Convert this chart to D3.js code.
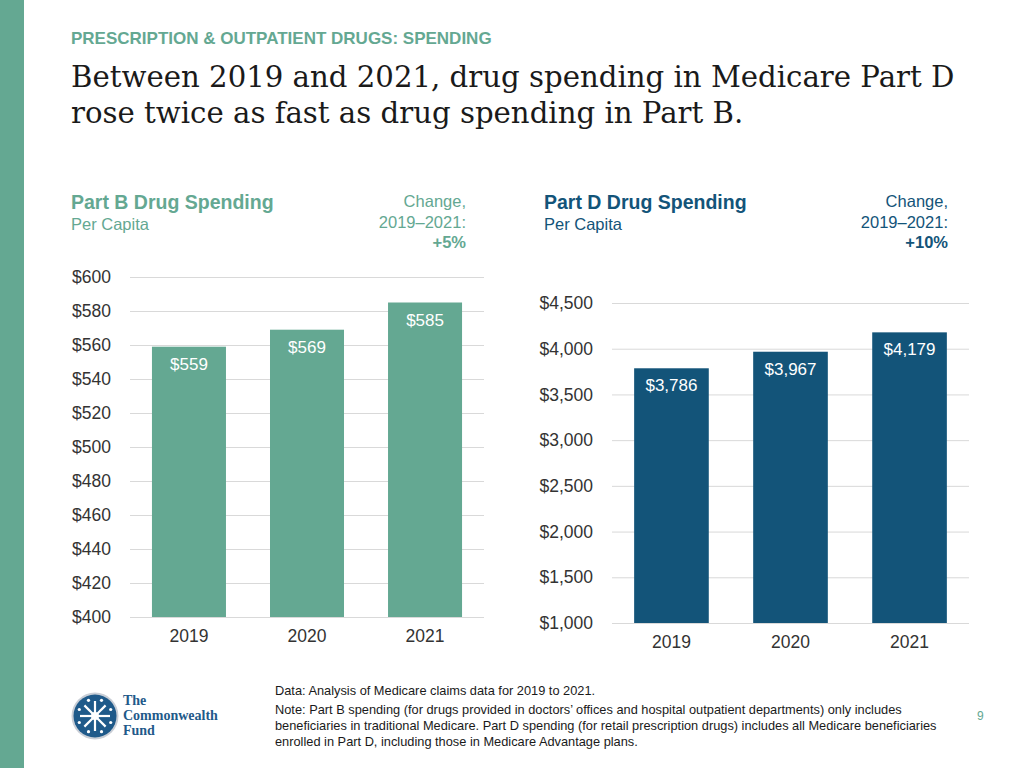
<!DOCTYPE html>
<html><head><meta charset="utf-8">
<script src="https://cdn.jsdelivr.net/npm/d3@7"></script>
<style>body{margin:0;background:#fff}svg{display:block}</style>
</head><body>
<script>
const years = ["2019","2020","2021"];
const partB = [559, 569, 585];
const partD = [3786, 3967, 4179];
const partBTicks = [400,420,440,460,480,500,520,540,560,580,600];
const partDTicks = [1000,1500,2000,2500,3000,3500,4000,4500];
const partBChange = "+5%";
const partDChange = "+10%";

const W=1024,H=768;
const green="#64a892", blue="#135479", txt="#333333", grid="#d9d9d9";
const sans="'Liberation Sans', Arial, sans-serif";
const serif="'DejaVu Serif', Georgia, serif";
const svg=d3.select("body").append("svg").attr("width",W).attr("height",H);
svg.append("rect").attr("x",0).attr("y",0).attr("width",W).attr("height",H).attr("fill","#fff");
svg.append("rect").attr("x",0).attr("y",0).attr("width",24).attr("height",H).attr("fill",green);

function fit(sel,target){ // scale font size so the text spans target width
  const s=+sel.attr("font-size"), w=sel.node().getComputedTextLength();
  sel.attr("font-size",s*target/w);
}
const hd=svg.append("text").attr("x",71).attr("y",44).attr("font-family",sans).attr("font-weight","bold")
 .attr("font-size",17).attr("fill",green).text("PRESCRIPTION & OUTPATIENT DRUGS: SPENDING");
fit(hd,421);
const t1=svg.append("text").attr("x",71).attr("y",87).attr("font-family",serif).attr("font-size",30).attr("fill","#1a1a1a")
 .text("Between 2019 and 2021, drug spending in Medicare Part D");
fit(t1,884);
svg.append("text").attr("x",71).attr("y",123).attr("font-family",serif).attr("font-size",t1.attr("font-size")).attr("fill","#1a1a1a")
 .text("rose twice as fast as drug spending in Part B.");

function panel(o){
  const g=svg.append("g");
  g.append("text").attr("x",o.tx).attr("y",209).attr("font-family",sans).attr("font-weight","bold").attr("font-size",19.5).attr("fill",o.color).text(o.title);
  g.append("text").attr("x",o.tx).attr("y",230).attr("font-family",sans).attr("font-size",16.5).attr("fill",o.color).text("Per Capita");
  const ch=g.append("text").attr("text-anchor","end").attr("font-family",sans).attr("font-size",16.5).attr("fill",o.color);
  ch.append("tspan").attr("x",o.cx).attr("y",207).text("Change,");
  ch.append("tspan").attr("x",o.cx).attr("y",228).text("2019\u20132021:");
  ch.append("tspan").attr("x",o.cx).attr("y",248).attr("font-weight","bold").text(o.change);

  const x=d3.scaleBand().domain(years).range([o.x0,o.x1]).paddingInner(0.373).paddingOuter(0.186);
  const y=d3.scaleLinear().domain([o.ticks[0],o.ticks[o.ticks.length-1]]).range([o.yb,o.yt]);
  const ga=g.append("g").attr("transform",`translate(${o.x0},0)`)
    .call(d3.axisLeft(y).tickValues(o.ticks).tickSize(-(o.x1-o.x0)).tickPadding(o.pad).tickFormat(d=>"$"+d3.format(o.fmt)(d)));
  ga.select(".domain").remove();
  ga.selectAll(".tick line").attr("stroke",grid).attr("stroke-width",1);
  ga.selectAll(".tick text").attr("font-family",sans).attr("font-size",17.5).attr("fill",txt);
  g.selectAll(".bar").data(o.vals).join("rect").attr("x",(d,i)=>x(years[i])).attr("width",x.bandwidth())
   .attr("y",d=>y(d)).attr("height",d=>o.yb-y(d)).attr("fill",o.color);
  g.selectAll(".vl").data(o.vals).join("text").attr("x",(d,i)=>x(years[i])+x.bandwidth()/2).attr("y",d=>y(d)+23)
   .attr("text-anchor","middle").attr("font-family",sans).attr("font-size",17).attr("fill","#fff")
   .text(d=>"$"+d3.format(",")(d));
  const gx=g.append("g").attr("transform",`translate(0,${o.yb})`).call(d3.axisBottom(x).tickSize(0).tickPadding(o.xpad));
  gx.select(".domain").remove();
  gx.selectAll(".tick text").attr("font-family",sans).attr("font-size",17.5).attr("fill",txt);
}
panel({tx:71,cx:466,title:"Part B Drug Spending",color:green,change:partBChange,x0:130,x1:484,yt:277,yb:617,ticks:partBTicks,vals:partB,fmt:"d",pad:19,xpad:13});
panel({tx:544,cx:948,title:"Part D Drug Spending",color:blue,change:partDChange,x0:612,x1:969,yt:303,yb:623,ticks:partDTicks,vals:partD,fmt:",",pad:19,xpad:13});

// logo
const lg=svg.append("g").attr("transform","translate(95,716)");
lg.append("circle").attr("r",23.5).attr("fill","#c9ced6");
lg.append("circle").attr("r",21.5).attr("fill","#1f5a8a");
for(let i=0;i<8;i++){
  const a=i*Math.PI/4;
  lg.append("line").attr("x1",0).attr("y1",0).attr("x2",15*Math.cos(a)).attr("y2",15*Math.sin(a)).attr("stroke","#fff").attr("stroke-width",2.2);
  lg.append("circle").attr("cx",17*Math.cos(a+Math.PI/8)).attr("cy",17*Math.sin(a+Math.PI/8)).attr("r",1.6).attr("fill","#fff");
}
lg.append("circle").attr("r",4).attr("fill","#fff");
const lg2=svg.append("g").attr("font-family","'Liberation Serif', Georgia, serif").attr("font-weight","bold").attr("font-size",14).attr("fill","#1f5a8a");
["The","Commonwealth","Fund"].forEach((t,i)=>lg2.append("text").attr("x",123).attr("y",705+i*15).text(t));

const nt=svg.append("g").attr("font-family",sans).attr("font-size",12.8).attr("fill","#1a1a1a");
nt.append("text").attr("x",275).attr("y",695).text("Data: Analysis of Medicare claims data for 2019 to 2021.");
nt.append("text").attr("x",275).attr("y",714).text("Note: Part B spending (for drugs provided in doctors\u2019 offices and hospital outpatient departments) only includes");
nt.append("text").attr("x",275).attr("y",730).text("beneficiaries in traditional Medicare. Part D spending (for retail prescription drugs) includes all Medicare beneficiaries");
nt.append("text").attr("x",275).attr("y",746).text("enrolled in Part D, including those in Medicare Advantage plans.");
svg.append("text").attr("x",977).attr("y",720).attr("font-family",sans).attr("font-size",12).attr("fill",green).text("9");
</script>
</body></html>
